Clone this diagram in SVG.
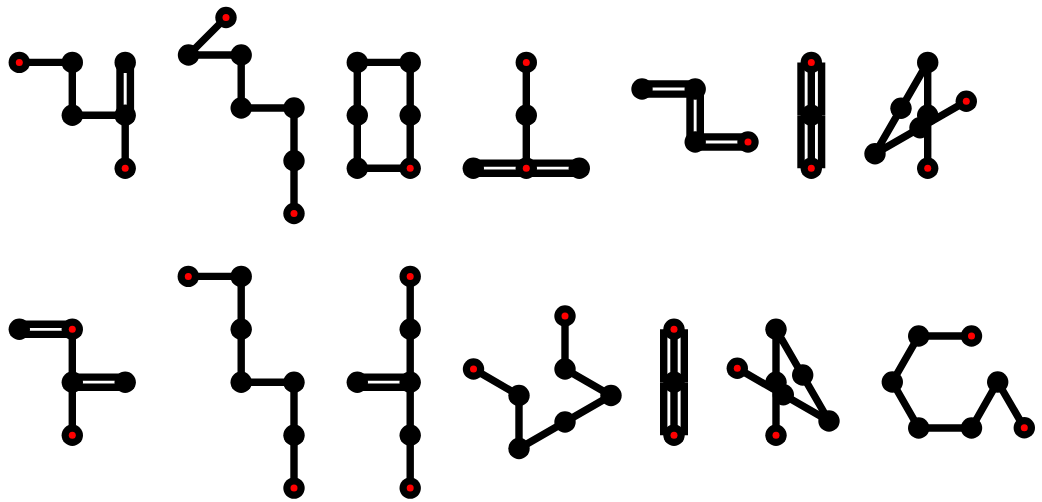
<svg xmlns="http://www.w3.org/2000/svg" width="1042" height="502" viewBox="0 0 1042 502">
<defs>
<style>
.b{stroke:#000;stroke-width:7.400;fill:none;stroke-linejoin:round}
.n{fill:#000}
.r{fill:#f00}
</style>
<g id="a"><circle class="n" r="10.700"/></g>
<g id="d"><circle class="n" r="10.700"/><circle class="r" r="3.500"/></g>
</defs>
<rect width="1042" height="502" fill="#fff"/>
<g id="connectors">
<path class="b" d="M19.300 62.400H72.300V115.300H125.200V168.200"/>
<path class="b" d="M120 62.400V115.300M130.400 62.400V115.300"/>
<path class="b" d="M226 17.500L188.500 55H241.200V108H294V213.500"/>
<path class="b" d="M357.300 62.400H410.200V168.200H357.300Z"/>
<path class="b" d="M526.300 62.400V168.200"/>
<path class="b" d="M473.300 163.100H579.300M473.300 173.300H579.300"/>
<path class="b" d="M642 83.900H695.200M642 94.100H695.200M690 89V142M700.300 89V142M695.200 136.900H748M695.200 147.100H748"/>
<path class="b" d="M811.300 62.400V168.200M801 62.400V115.200M821.600 62.400V115.200M801 115.400V168.200M821.600 115.400V168.200"/>
<path class="b" d="M927.700 62.400V168.200M927.700 62.400L875 153.700L966.300 101.300"/>
<path class="b" d="M19.300 324.200H72.300M19.300 334.400H72.300M72.300 329.300V435.200M72.300 377.100H125.200M72.300 387.300H125.200"/>
<path class="b" d="M188.300 276.400H241.200V382.200H294V488.100"/>
<path class="b" d="M410.200 276.400V488.100M357.300 377.100H410.200M357.300 387.300H410.200"/>
<path class="b" d="M473.500 369L519 395.500V448.500L611 395.500L565 369V316"/>
<path class="b" d="M674 329.300V435.200M663.700 329.300V382.100M684.300 329.300V382.100M663.700 382.300V435.200M684.300 382.300V435.200"/>
<path class="b" d="M776 329.300V435.200M776 329.300L829 421L737.300 368.300"/>
<path class="b" d="M971.500 336H918.700L892.300 382L918.700 428H971.500L997.700 382L1024.300 427.700"/>
</g>
<g id="m1"><use href="#d" x="19.300" y="62.400"/><use href="#a" x="72.300" y="62.400"/><use href="#a" x="72.300" y="115.300"/><use href="#a" x="125.200" y="115.300"/><use href="#a" x="125.200" y="62.400"/><use href="#d" x="125.200" y="168.200"/></g>
<g id="m2"><use href="#d" x="226" y="17.500"/><use href="#a" x="188.500" y="55"/><use href="#a" x="241.200" y="55"/><use href="#a" x="241.200" y="108"/><use href="#a" x="294" y="108"/><use href="#a" x="294" y="160.800"/><use href="#d" x="294" y="213.500"/></g>
<g id="m3"><use href="#a" x="357.300" y="62.400"/><use href="#a" x="410.200" y="62.400"/><use href="#a" x="357.300" y="115.300"/><use href="#a" x="410.200" y="115.300"/><use href="#a" x="357.300" y="168.200"/><use href="#d" x="410.200" y="168.200"/></g>
<g id="m4"><use href="#d" x="526.300" y="62.400"/><use href="#a" x="526.300" y="115.300"/><use href="#d" x="526.300" y="168.200"/><use href="#a" x="473.300" y="168.200"/><use href="#a" x="579.300" y="168.200"/></g>
<g id="m5"><use href="#a" x="642" y="89"/><use href="#a" x="695.200" y="89"/><use href="#a" x="695.200" y="142"/><use href="#d" x="748" y="142"/></g>
<g id="m6"><use href="#d" x="811.300" y="62.400"/><use href="#a" x="811.300" y="115.300"/><use href="#d" x="811.300" y="168.200"/></g>
<g id="m7"><use href="#a" x="927.700" y="62.400"/><use href="#a" x="901" y="108.300"/><use href="#a" x="875" y="153.700"/><use href="#a" x="927.700" y="115.300"/><use href="#a" x="920" y="127.700"/><use href="#d" x="966.300" y="101.300"/><use href="#d" x="927.700" y="168.200"/></g>
<g id="m8"><use href="#a" x="19.300" y="329.300"/><use href="#d" x="72.300" y="329.300"/><use href="#a" x="72.300" y="382.200"/><use href="#a" x="125.200" y="382.200"/><use href="#d" x="72.300" y="435.200"/></g>
<g id="m9"><use href="#d" x="188.300" y="276.400"/><use href="#a" x="241.200" y="276.400"/><use href="#a" x="241.200" y="329.300"/><use href="#a" x="241.200" y="382.200"/><use href="#a" x="294" y="382.200"/><use href="#a" x="294" y="435.200"/><use href="#d" x="294" y="488.100"/></g>
<g id="m10"><use href="#d" x="410.200" y="276.400"/><use href="#a" x="410.200" y="329.300"/><use href="#a" x="410.200" y="382.200"/><use href="#a" x="357.300" y="382.200"/><use href="#a" x="410.200" y="435.200"/><use href="#d" x="410.200" y="488.100"/></g>
<g id="m11"><use href="#d" x="473.500" y="369"/><use href="#a" x="519" y="395.500"/><use href="#a" x="519" y="448.500"/><use href="#a" x="565" y="422"/><use href="#a" x="611" y="395.500"/><use href="#a" x="565" y="369"/><use href="#d" x="565" y="316"/></g>
<g id="m12"><use href="#d" x="674" y="329.300"/><use href="#a" x="674" y="382.200"/><use href="#d" x="674" y="435.200"/></g>
<g id="m13"><use href="#a" x="776" y="329.300"/><use href="#a" x="776" y="382.200"/><use href="#d" x="776" y="435.200"/><use href="#a" x="802.700" y="375"/><use href="#a" x="829" y="421"/><use href="#a" x="783.300" y="394.700"/><use href="#d" x="737.300" y="368.300"/></g>
<g id="m14"><use href="#a" x="892.300" y="382"/><use href="#a" x="918.700" y="336"/><use href="#d" x="971.500" y="336"/><use href="#a" x="918.700" y="428"/><use href="#a" x="971.500" y="428"/><use href="#a" x="997.700" y="382"/><use href="#d" x="1024.300" y="427.700"/></g>
</svg>
